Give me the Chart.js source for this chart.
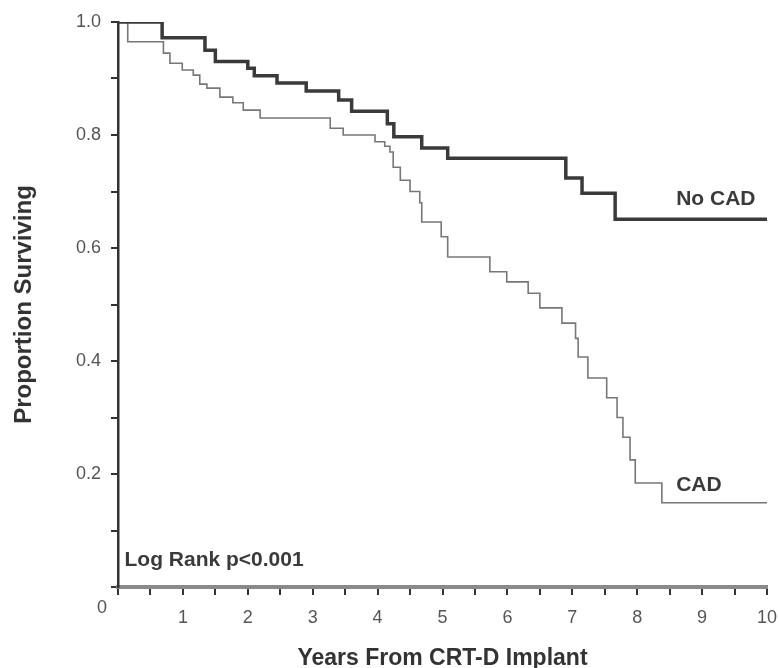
<!DOCTYPE html>
<html>
<head>
<meta charset="utf-8">
<script src="https://cdn.jsdelivr.net/npm/chart.js@4"></script>
<style>
  html, body { margin: 0; padding: 0; background: #fff; }
  #wrap { width: 779px; height: 668px; }
</style>
</head>
<body>
<div id="wrap"><canvas id="km"></canvas></div>
<script>
// Kaplan-Meier steps: time (years) and survival after the event
const noCadTimes    = [0, 0.68, 1.34, 1.5, 2.0, 2.1, 2.45, 2.9, 3.4, 3.6, 4.15, 4.25, 4.68, 5.08, 6.9, 7.15, 7.66, 10];
const noCadSurvival = [1.0, 0.972, 0.95, 0.93, 0.918, 0.905, 0.892, 0.878, 0.862, 0.842, 0.82, 0.797, 0.777, 0.759, 0.724, 0.697, 0.651, 0.651];

const cadTimes    = [0, 0.15, 0.7, 0.8, 0.99, 1.16, 1.26, 1.37, 1.57, 1.77, 1.93, 2.19, 3.27, 3.47, 3.96, 4.11, 4.19, 4.24, 4.35, 4.5, 4.65, 4.68, 4.98, 5.08, 5.73, 5.99, 6.32, 6.5, 6.84, 7.05, 7.09, 7.24, 7.53, 7.69, 7.78, 7.89, 7.97, 8.38, 10];
const cadSurvival = [1.0, 0.965, 0.945, 0.927, 0.915, 0.906, 0.89, 0.883, 0.867, 0.857, 0.844, 0.83, 0.812, 0.80, 0.788, 0.78, 0.77, 0.743, 0.72, 0.70, 0.68, 0.646, 0.62, 0.584, 0.558, 0.54, 0.52, 0.494, 0.467, 0.44, 0.407, 0.37, 0.335, 0.30, 0.265, 0.225, 0.184, 0.149, 0.149];

const yMajorTicks = [0.2, 0.4, 0.6, 0.8, 1.0];
const seriesLabels = ['No CAD', 'CAD'];
const pValueText = 'Log Rank p<0.001';

const FONT = "'Liberation Sans', Arial, sans-serif";

const toPoints = (xs, ys) => xs.map((t, i) => ({ x: t, y: ys[i] }));

// labels on the plot and the lone "0" at the origin
const annotations = {
    id: 'annotations',
    afterDraw(chart) {
        const { ctx, scales: { x, y } } = chart;
        ctx.save();
        ctx.font = 'bold 21px ' + FONT;
        ctx.fillStyle = '#3a3a3a';
        ctx.textBaseline = 'middle';
        ctx.textAlign = 'left';
        ctx.fillText(seriesLabels[0], x.getPixelForValue(8.6), y.getPixelForValue(0.686));
        ctx.fillText(seriesLabels[1], x.getPixelForValue(8.6), y.getPixelForValue(0.181));
        ctx.fillText(pValueText, x.getPixelForValue(0.1), y.getPixelForValue(0.048));
        ctx.font = '18px ' + FONT;
        ctx.fillStyle = '#555';
        ctx.textAlign = 'center';
        ctx.fillText('0', x.left - 16, y.bottom + 21);
        ctx.restore();
    }
};

new Chart(document.getElementById('km'), {
    type: 'line',
    data: {
        datasets: [
            {
                label: seriesLabels[0],
                data: toPoints(noCadTimes, noCadSurvival),
                borderColor: '#3a3a3a',
                borderWidth: 3.5,
                stepped: 'before',
                pointRadius: 0,
                fill: false
            },
            {
                label: seriesLabels[1],
                data: toPoints(cadTimes, cadSurvival),
                borderColor: '#777',
                borderWidth: 1.6,
                stepped: 'before',
                pointRadius: 0,
                fill: false
            }
        ]
    },
    options: {
        responsive: true,
        maintainAspectRatio: false,
        animation: false,
        layout: { padding: { left: 0, right: 0, top: 22, bottom: 0 } },
        plugins: {
            legend: { display: false },
            tooltip: { enabled: false }
        },
        scales: {
            x: {
                type: 'linear',
                min: 0,
                max: 10,
                ticks: {
                    stepSize: 0.5,
                    autoSkip: false,
                    maxRotation: 0,
                    color: '#555',
                    font: { family: FONT, size: 18 },
                    padding: 12,
                    callback: v => (Number.isInteger(v) && v > 0) ? String(v) : ''
                },
                grid: {
                    drawOnChartArea: false,
                    drawTicks: true,
                    tickLength: 8,
                    color: '#333',
                    lineWidth: 2
                },
                border: { display: true, color: '#8a8a8a', width: 4 },
                title: {
                    display: true,
                    text: 'Years From CRT-D Implant',
                    color: '#333',
                    font: { family: FONT, size: 23, weight: 'bold', lineHeight: 0.8 },
                    padding: { top: 0, bottom: 0 }
                },
                afterFit(scale) {
                    scale.height = 668 - 587;
                    scale.paddingRight = 12;
                }
            },
            y: {
                min: 0,
                max: 1.0,
                ticks: {
                    stepSize: 0.1,
                    autoSkip: false,
                    color: '#555',
                    font: { family: FONT, size: 18 },
                    padding: 10,
                    callback: v => {
                        const r = Math.round(v * 10) / 10;
                        return yMajorTicks.some(m => Math.abs(m - r) < 1e-6) ? r.toFixed(1) : '';
                    }
                },
                grid: {
                    drawOnChartArea: false,
                    drawTicks: true,
                    tickLength: 7,
                    color: '#333',
                    lineWidth: 2
                },
                border: { display: true, color: '#333', width: 2.5 },
                title: {
                    display: true,
                    text: 'Proportion Surviving',
                    color: '#333',
                    font: { family: FONT, size: 24, weight: 'bold', lineHeight: 1 },
                    padding: { top: 12, bottom: 0 }
                },
                afterFit(scale) { scale.width = 118; }
            }
        }
    },
    plugins: [annotations]
});
</script>
</body>
</html>
